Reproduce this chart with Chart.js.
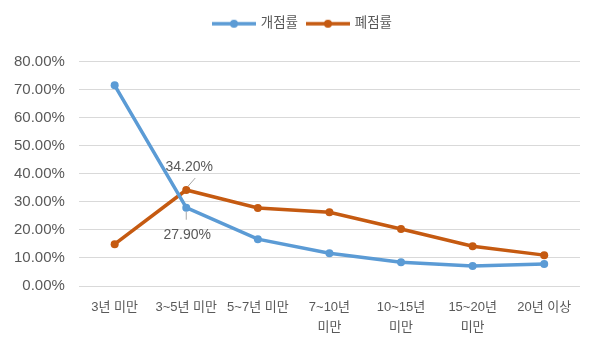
<!DOCTYPE html>
<html>
<head>
<meta charset="utf-8">
<script src="https://cdn.jsdelivr.net/npm/chart.js@4"></script>
<style>
  html, body { margin: 0; padding: 0; background: #fff; }
  #wrap { width: 600px; height: 352px; }
</style>
</head>
<body>
<div id="wrap"><canvas id="chart"></canvas></div>
<script>
const categories = ['3년 미만', '3~5년 미만', '5~7년 미만', ['7~10년', '미만'], ['10~15년', '미만'], ['15~20년', '미만'], '20년 이상'];
const openRate = [71.5, 27.9, 16.7, 11.7, 8.5, 7.1, 7.8];
const closeRate = [14.9, 34.2, 27.8, 26.3, 20.3, 14.2, 11.0];
const seriesNames = ['개점률', '폐점률'];
const colors = ['#5B9BD5', '#C55A11'];

const FONT = "'Liberation Sans', 'Noto Sans CJK KR', sans-serif";

// small line+dot markers for the legend
function legendMarker(color) {
    const c = document.createElement('canvas');
    c.width = 46; c.height = 10;
    const ctx = c.getContext('2d');
    ctx.strokeStyle = color;
    ctx.lineWidth = 3.5;
    ctx.beginPath();
    ctx.moveTo(1, 5); ctx.lineTo(45, 5);
    ctx.stroke();
    ctx.fillStyle = color;
    ctx.beginPath();
    ctx.arc(23, 5, 4, 0, Math.PI * 2);
    ctx.fill();
    return c;
}

// extra space under the legend, and nudge it right
const legendGap = {
    id: 'legendGap',
    beforeInit(chart) {
        const fit = chart.legend.fit;
        chart.legend.fit = function () {
            fit.bind(chart.legend)();
            this.height += 21;
        };
    },
    afterLayout(chart) {
        chart.legend.left += 13;
        chart.legend.right += 13;
    }
};

// labels on the 3~5년 point of each series
const pointLabels = {
    id: 'pointLabels',
    afterDatasetsDraw(chart) {
        const ctx = chart.ctx;
        const orange = chart.getDatasetMeta(1).data[1];
        const blue = chart.getDatasetMeta(0).data[1];
        ctx.save();
        ctx.font = '14px ' + FONT;
        ctx.fillStyle = '#595959';
        ctx.textAlign = 'center';
        ctx.textBaseline = 'middle';
        ctx.strokeStyle = '#A6A6A6';
        ctx.lineWidth = 1;
        ctx.beginPath();
        ctx.moveTo(orange.x + 2, orange.y - 4);
        ctx.lineTo(orange.x + 9, orange.y - 12);
        ctx.stroke();
        ctx.fillText(closeRate[1].toFixed(2) + '%', orange.x + 3, orange.y - 23);
        ctx.beginPath();
        ctx.moveTo(blue.x, blue.y + 4);
        ctx.lineTo(blue.x, blue.y + 12);
        ctx.stroke();
        ctx.fillText(openRate[1].toFixed(2) + '%', blue.x + 1, blue.y + 27);
        ctx.restore();
    }
};

new Chart(document.getElementById('chart'), {
    type: 'line',
    data: {
        labels: categories,
        datasets: [
            {
                label: seriesNames[0],
                data: openRate,
                borderColor: colors[0],
                backgroundColor: colors[0],
                borderWidth: 3.5,
                pointRadius: 4,
                pointBorderWidth: 0,
                pointHoverRadius: 4,
                tension: 0
            },
            {
                label: seriesNames[1],
                data: closeRate,
                borderColor: colors[1],
                backgroundColor: colors[1],
                borderWidth: 3.5,
                pointRadius: 4,
                pointBorderWidth: 0,
                pointHoverRadius: 4,
                tension: 0
            }
        ]
    },
    options: {
        responsive: true,
        maintainAspectRatio: false,
        animation: false,
        layout: { padding: { left: 0, right: 20, top: 7, bottom: 3 } },
        scales: {
            y: {
                min: 0,
                max: 80,
                ticks: {
                    stepSize: 10,
                    color: '#595959',
                    font: { family: FONT, size: 15 },
                    padding: 14,
                    callback: v => v.toFixed(2) + '%'
                },
                grid: { color: '#D9D9D9', drawTicks: false, lineWidth: 1 },
                border: { display: false }
            },
            x: {
                offset: true,
                ticks: {
                    color: '#595959',
                    font: { family: FONT, size: 13, lineHeight: 1.5 },
                    maxRotation: 0,
                    autoSkip: false,
                    padding: 12
                },
                grid: { display: false, drawTicks: false, offset: true },
                border: { display: false }
            }
        },
        plugins: {
            legend: {
                display: true,
                position: 'top',
                labels: {
                    color: '#595959',
                    font: { family: FONT, size: 13.5 },
                    usePointStyle: true,
                    pointStyleWidth: 40,
                    boxHeight: 10,
                    padding: 10,
                    generateLabels(chart) {
                        return chart.data.datasets.map((ds, i) => ({
                            text: ds.label,
                            pointStyle: legendMarker(colors[i]),
                            fillStyle: colors[i],
                            strokeStyle: colors[i],
                            lineWidth: 0,
                            hidden: false,
                            datasetIndex: i,
                            fontColor: '#595959'
                        }));
                    }
                }
            },
            tooltip: { enabled: false }
        }
    },
    plugins: [legendGap, pointLabels]
});
</script>
</body>
</html>
